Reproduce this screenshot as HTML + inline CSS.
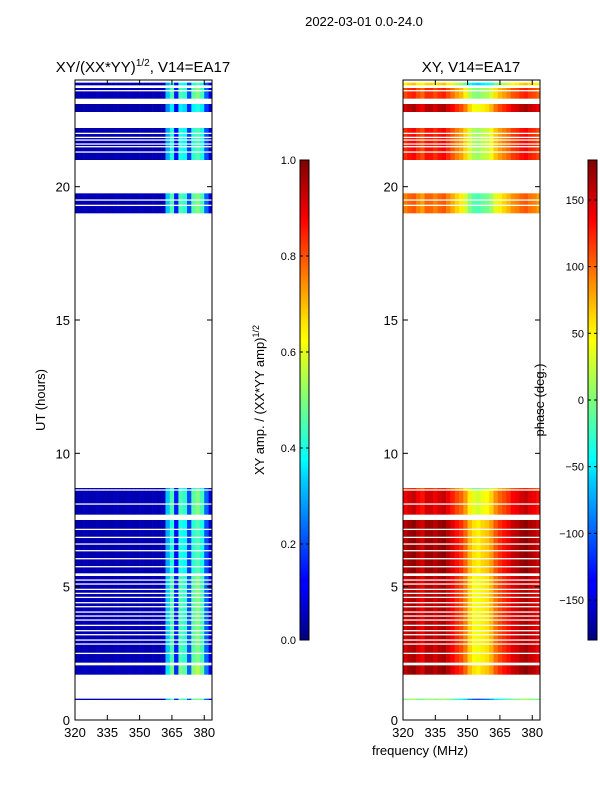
<!DOCTYPE html>
<html><head><meta charset="utf-8"><style>
body{margin:0;background:#fff;}
svg{display:block;font-family:"Liberation Sans",sans-serif;}
</style></head><body>
<svg id="fig" width="600" height="800" xmlns="http://www.w3.org/2000/svg">
<defs>
<linearGradient id="jet" x1="0" y1="1" x2="0" y2="0">
<stop offset="0" stop-color="#00007f"/><stop offset="0.11" stop-color="#0000ff"/>
<stop offset="0.125" stop-color="#0000ff"/><stop offset="0.34" stop-color="#00d4ff"/>
<stop offset="0.375" stop-color="#00ffff"/><stop offset="0.5" stop-color="#7dff7a"/>
<stop offset="0.625" stop-color="#ffff00"/><stop offset="0.66" stop-color="#ffe600"/>
<stop offset="0.875" stop-color="#ff0000"/><stop offset="1" stop-color="#7f0000"/>
</linearGradient>
</defs>
<text x="364" y="26" font-size="13" text-anchor="middle">2022-03-01 0.0-24.0</text>
<g id="left"></g>
<g id="right"></g>
<text x="143" y="72" font-size="15" text-anchor="middle">XY/(XX*YY)<tspan font-size="10" dy="-6">1/2</tspan><tspan dy="6">, V14=EA17</tspan></text>
<text x="471" y="72" font-size="15" text-anchor="middle">XY, V14=EA17</text>
<text transform="translate(45,400) rotate(-90)" font-size="13" text-anchor="middle">UT (hours)</text>
<text x="420" y="755" font-size="13" text-anchor="middle">frequency (MHz)</text>
<g id="cb1"></g>
<g id="cb2"></g>
<text transform="translate(264,400) rotate(-90)" font-size="13" text-anchor="middle">XY amp. / (XX*YY amp)<tspan font-size="9" dy="-5">1/2</tspan></text>
<text transform="translate(544,400) rotate(-90)" font-size="13" text-anchor="middle">phase (deg.)</text>
</svg>
<script>
// ---- data ----
const chanStarts = [320,322,324,326,328,330,332,334,336,338,340,342,344,346,348,350,352,354,356,358,360,362,364,366,368,370,372,374,376,378,380,382];
const chanAmp   = [0.05,0.05,0.06,0.05,0.05,0.06,0.05,0.05,0.05,0.06,0.05,0.05,0.06,0.05,0.05,0.06,0.05,0.05,0.06,0.05,0.06,0.32,0.45,0.15,0.45,0.42,0.2,0.46,0.5,0.44,0.22,0.1];
const chanPhase = [150,160,165,150,140,160,160,150,160,165,150,135,120,110,90,60,45,40,50,55,70,95,110,120,130,145,150,160,165,155,150,140];
const bandStart = [0.75,1.7,2.15,5.5,7.7,8.65,19.0,21.0,22.8,23.3,23.8];
const bandEnd   = [0.8,2.05,5.4,7.5,8.6,8.7,19.75,22.2,23.1,23.7,23.9];
const bandAmpScale = [1.0,1.1,1.0,0.9,1.0,0.9,1.0,0.9,0.8,1.0,0.9];
const bandPhaseOff = [-150,10,0,10,-10,-40,-60,-30,0,-40,-100];
const gapHours = [2.5,2.85,3.0,3.2,3.35,3.55,3.75,3.9,4.05,4.25,4.4,4.6,4.75,4.9,5.1,5.25,5.75,6.05,6.35,6.6,6.85,7.15,8.1,19.3,19.5,21.3,21.5,21.6,21.75,21.85,22.0,23.6];
const yTicks = [0,5,10,15,20];
const xTicks = [320,335,350,365,380];
const cb1Ticks = [0.0,0.2,0.4,0.6,0.8,1.0];
const cb2Ticks = [-150,-100,-50,0,50,100,150];

const NS="http://www.w3.org/2000/svg";
const X0=[75,403], W=137, YT=80, YB=720, F0=320, F1=383.6, H0=0, H1=24;
function xs(p,f){return X0[p]+(f-F0)/(F1-F0)*W;}
function ys(h){return YB-(h-H0)/(H1-H0)*(YB-YT);}
function jet(v){v=Math.max(0,Math.min(1,v));
 const r=Math.max(0,Math.min(1,1.5-Math.abs(4*v-3))),g=Math.max(0,Math.min(1,1.5-Math.abs(4*v-2))),b=Math.max(0,Math.min(1,1.5-Math.abs(4*v-1)));
 return `rgb(${Math.round(r*255)},${Math.round(g*255)},${Math.round(b*255)})`;}
function wrap(p){while(p>180)p-=360;while(p<-180)p+=360;return p;}
function el(tag,attrs,parent){const e=document.createElementNS(NS,tag);for(const k in attrs)e.setAttribute(k,attrs[k]);parent.appendChild(e);return e;}

[0,1].forEach(p=>{
 const g=document.getElementById(p?'right':'left');
 for(let b=0;b<bandStart.length;b++){
  for(let c=0;c<chanStarts.length;c++){
   const x1=xs(p,chanStarts[c]), x2=Math.min(xs(p,chanStarts[c]+2),X0[p]+W);
   const y1=ys(bandEnd[b]), y2=ys(bandStart[b]);
   let col;
   if(p===0) col=jet(chanAmp[c]*bandAmpScale[b]);
   else col=jet((wrap(chanPhase[c]+bandPhaseOff[b])+180)/360);
   const r=el('rect',{x:x1,y:y1,width:x2-x1+0.3,height:Math.max(1,y2-y1),fill:col},g);
   
   
  }
 }
 gapHours.forEach(h=>{
  const r=el('rect',{x:X0[p],y:ys(h)-0.6,width:W,height:1.3,fill:'#fff'},g);
  
  
 });
 const fr=el('rect',{x:X0[p],y:YT,width:W,height:YB-YT,fill:'none',stroke:'#000','stroke-width':1},g);
 
 
 yTicks.forEach(t=>{
  const y=ys(t);
  el('line',{x1:X0[p],x2:X0[p]+5,y1:y,y2:y,stroke:'#000'},g);
  el('line',{x1:X0[p]+W,x2:X0[p]+W-5,y1:y,y2:y,stroke:'#000'},g);
  const tx=el('text',{x:X0[p]-5,y:y+5,'font-size':13,'text-anchor':'end'},g);
  tx.textContent=t;
  
  
 });
 xTicks.forEach(t=>{
  const x=xs(p,t);
  el('line',{x1:x,x2:x,y1:YB,y2:YB-5,stroke:'#000'},g);
  el('line',{x1:x,x2:x,y1:YT,y2:YT+5,stroke:'#000'},g);
  const tx=el('text',{x:x,y:YB+17,'font-size':13,'text-anchor':'middle'},g);
  tx.textContent=t;
  
  
 });
});

function colorbar(id,x,ticks,lo,hi,fmt){
 const g=document.getElementById(id);
 el('rect',{x:x,y:160,width:9,height:480,fill:'url(#jet)',stroke:'#000','stroke-width':1},g);
 ticks.forEach(t=>{
  const y=640-(t-lo)/(hi-lo)*480;
  el('line',{x1:x,x2:x+3,y1:y,y2:y,stroke:'#000'},g);
  el('line',{x1:x+9,x2:x+6,y1:y,y2:y,stroke:'#000'},g);
  const tx=el('text',{x:x-4,y:y+4,'font-size':11,'text-anchor':'end'},g);
  tx.textContent=fmt(t);
  
  
 });
}
colorbar('cb1',300,cb1Ticks,0,1,t=>t.toFixed(1));
colorbar('cb2',588,cb2Ticks,-180,180,t=>t<0?'\u2212'+(-t):String(t));
</script>
</body></html>
